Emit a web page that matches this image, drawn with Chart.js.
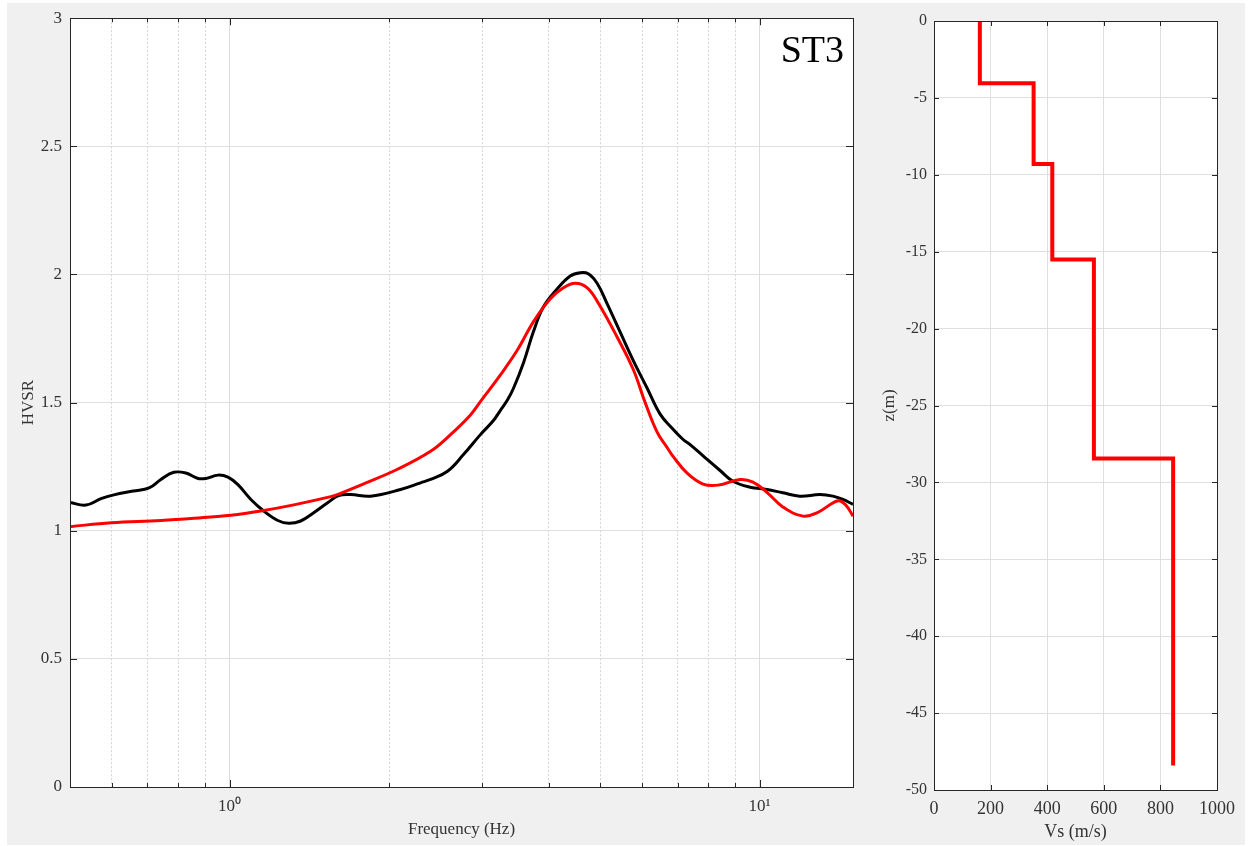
<!DOCTYPE html>
<html>
<head>
<meta charset="utf-8">
<title>ST3 HVSR</title>
<script src="https://cdn.jsdelivr.net/npm/chart.js@4.4.1/dist/chart.umd.min.js"></script>
<style>
  html, body { margin: 0; padding: 0; background: #fff; }
  #fig { position: absolute; left: 7px; top: 3px; width: 1238px; height: 842px; background: #f0f0f0; }
  #hvsr { position: absolute; left: 0; top: 0; }
  #vs { position: absolute; left: 870px; top: 0; }
</style>
</head>
<body>
<div id="fig"></div>
<canvas id="hvsr" width="870" height="846"></canvas>
<canvas id="vs" width="380" height="846"></canvas>
<script>
// measured H/V curve
const obsFreq = [0.50, 0.536, 0.572, 0.605, 0.658, 0.705, 0.742, 0.785, 0.827, 0.872, 0.902, 0.951, 0.993, 1.037, 1.097,
  1.16, 1.233, 1.293, 1.362, 1.441, 1.531, 1.606, 1.692, 1.845, 2.102, 2.293, 2.394, 2.577, 2.762, 2.973, 3.146, 3.243,
  3.343, 3.431, 3.584, 3.742, 3.908, 4.152, 4.392, 4.587, 4.749, 4.939, 5.157, 5.456, 5.773, 6.135, 6.49, 6.836, 7.171,
  7.393, 7.822, 8.421, 8.907, 9.59, 10.32, 11.06, 11.91, 12.99, 13.75, 14.36, 15.0]
const obsHvsr = [1.11, 1.10, 1.125, 1.14, 1.155, 1.167, 1.20, 1.228, 1.225, 1.204, 1.204, 1.217, 1.209, 1.18, 1.122,
  1.077, 1.04, 1.029, 1.038, 1.07, 1.109, 1.137, 1.141, 1.135, 1.161, 1.187, 1.20, 1.232, 1.297, 1.375, 1.43, 1.47,
  1.51, 1.555, 1.655, 1.776, 1.873, 1.944, 1.994, 2.007, 2.003, 1.965, 1.885, 1.775, 1.665, 1.556, 1.455, 1.40, 1.356,
  1.336, 1.292, 1.235, 1.193, 1.17, 1.161, 1.148, 1.135, 1.141, 1.135, 1.122, 1.103]

// theoretical H/V of the inverted model
const fitFreq = [0.50, 0.598, 0.742, 0.922, 1.006, 1.145, 1.322, 1.552, 1.606, 1.79, 2.074, 2.394, 2.611, 2.847, 2.973,
  3.243, 3.491, 3.742, 4.028, 4.263, 4.489, 4.729, 4.973, 5.387, 5.773, 6.082, 6.406, 6.689, 6.865, 7.297, 7.822,
  8.347, 9.181, 9.714, 10.32, 11.06, 12.07, 12.88, 14.05, 14.54, 15.0]
const fitHvsr = [1.016, 1.031, 1.040, 1.054, 1.060, 1.077, 1.101, 1.133, 1.143, 1.183, 1.24, 1.31, 1.375, 1.452, 1.504,
  1.608, 1.705, 1.815, 1.905, 1.948, 1.966, 1.948, 1.885, 1.755, 1.63, 1.50, 1.385, 1.325, 1.29, 1.225, 1.182,
  1.178, 1.20, 1.19, 1.15, 1.093, 1.057, 1.072, 1.117, 1.10, 1.057]

const freqTicks = [0.6, 0.7, 0.8, 0.9, 1, 2, 3, 4, 5, 6, 7, 8, 9, 10]
const freqLabels = ['', '', '', '', '10\u2070', '', '', '', '', '', '', '', '', '10\u00b9']

// Vs profile: one velocity per layer, depth bounds top to bottom
const vsLayer = [162, 352, 418, 565, 845]
const depthBounds = [0, -4.05, -9.3, -15.5, -28.45, -48.4]

const stationName = 'ST3'

const serif = '"Liberation Serif", "Times New Roman", serif'
const axisColor = '#262626'
const labelColor = '#333'

const toPoints = (xs, ys) => xs.map((x, i) => ({ x: x, y: ys[i] }))
const plainNum = v => String(v)

const profile = []
vsLayer.forEach((v, i) => {
  profile.push({ x: v, y: depthBounds[i] })
  profile.push({ x: v, y: depthBounds[i + 1] })
})

// white axes area, box and inward ticks like the matlab look
const frame = {
  id: 'frame',
  beforeDraw(chart) {
    const { ctx, chartArea: a } = chart
    ctx.save()
    ctx.fillStyle = '#fff'
    ctx.fillRect(a.left, a.top, a.right - a.left, a.bottom - a.top)
    ctx.restore()
  },
  afterDatasetsDraw(chart, args, opts) {
    const { ctx, chartArea: a, scales } = chart
    ctx.save()
    ctx.strokeStyle = axisColor
    ctx.lineWidth = 1
    ctx.beginPath()
    scales.x.ticks.forEach(t => {
      const px = Math.round(scales.x.getPixelForValue(t.value)) + 0.5
      const len = t.label === '' ? opts.minorLen : opts.majorLen
      ctx.moveTo(px, a.bottom); ctx.lineTo(px, a.bottom - len)
      ctx.moveTo(px, a.top); ctx.lineTo(px, a.top + len)
    })
    scales.y.ticks.forEach(t => {
      const py = Math.round(scales.y.getPixelForValue(t.value)) + 0.5
      ctx.moveTo(a.left, py); ctx.lineTo(a.left + opts.majorLen, py)
      ctx.moveTo(a.right, py); ctx.lineTo(a.right - opts.majorLen, py)
    })
    ctx.stroke()
    ctx.strokeRect(Math.round(a.left) + 0.5, Math.round(a.top) + 0.5,
      Math.round(a.right - a.left), Math.round(a.bottom - a.top))
    if (opts.name) {
      ctx.fillStyle = '#000'
      ctx.font = '38px ' + serif
      ctx.textAlign = 'right'
      ctx.textBaseline = 'alphabetic'
      ctx.fillText(opts.name, a.right - 9, a.top + 44)
    }
    ctx.restore()
  }
}

const isMajorFreq = v => v === 1 || v === 10

new Chart(document.getElementById('hvsr'), {
  type: 'scatter',
  data: {
    datasets: [
      {
        data: toPoints(fitFreq, fitHvsr),
        showLine: true, borderColor: '#ff0000', borderWidth: 3,
        pointRadius: 0, tension: 0.4, order: 0
      },
      {
        data: toPoints(obsFreq, obsHvsr),
        showLine: true, borderColor: '#000', borderWidth: 3,
        pointRadius: 0, tension: 0.4, order: 1
      }
    ]
  },
  plugins: [frame],
  options: {
    responsive: false,
    animation: false,
    layout: { padding: { left: 0, top: 15, right: 17, bottom: 0 } },
    plugins: {
      legend: { display: false },
      tooltip: { enabled: false },
      frame: { majorLen: 7, minorLen: 4, name: stationName }
    },
    scales: {
      x: {
        type: 'logarithmic', min: 0.5, max: 15,
        afterBuildTicks: s => { s.ticks = freqTicks.map(v => ({ value: v })) },
        afterFit: s => { s.height = 59 },
        grid: {
          drawTicks: false,
          lineWidth: 1,
          color: c => (c.tick && isMajorFreq(c.tick.value)) ? '#dcdcdc' : '#d2d2d2'
        },
        border: {
          display: false,
          dash: c => (c.tick && !isMajorFreq(c.tick.value)) ? [2, 2] : []
        },
        ticks: {
          autoSkip: false, maxRotation: 0, padding: 9,
          color: labelColor, font: { family: serif, size: 17 },
          callback: (v, i) => freqLabels[i]
        },
        title: {
          display: true, text: 'Frequency (Hz)', color: labelColor,
          font: { family: serif, size: 17 }, padding: { top: 0, bottom: 6 }
        }
      },
      y: {
        min: 0, max: 3,
        afterFit: s => { s.width = 70 },
        grid: { drawTicks: false, color: '#dfdfdf', lineWidth: 1 },
        border: { display: false },
        ticks: {
          stepSize: 0.5, padding: 8, callback: plainNum,
          color: labelColor, font: { family: serif, size: 17 }
        },
        title: {
          display: true, text: 'HVSR', color: labelColor,
          font: { family: serif, size: 17 }, padding: { top: 18, bottom: 0 }
        }
      }
    }
  }
})

new Chart(document.getElementById('vs'), {
  type: 'scatter',
  data: {
    datasets: [{
      data: profile,
      showLine: true, borderColor: '#ff0000', borderWidth: 4,
      pointRadius: 0, borderJoinStyle: 'miter'
    }]
  },
  plugins: [frame],
  options: {
    responsive: false,
    animation: false,
    layout: { padding: { left: 0, top: 21, right: 33, bottom: 0 } },
    plugins: {
      legend: { display: false },
      tooltip: { enabled: false },
      frame: { majorLen: 5, minorLen: 5 }
    },
    scales: {
      x: {
        min: 0, max: 1000,
        afterFit: s => { s.height = 56 },
        grid: { drawTicks: false, color: '#dfdfdf', lineWidth: 1 },
        border: { display: false },
        ticks: {
          stepSize: 200, maxRotation: 0, padding: 8, callback: plainNum,
          color: labelColor, font: { family: serif, size: 18 }
        },
        title: {
          display: true, text: 'Vs (m/s)', color: labelColor,
          font: { family: serif, size: 18 }, padding: { top: 0, bottom: 3 }
        }
      },
      y: {
        min: -50, max: 0,
        afterFit: s => { s.width = 64 },
        grid: { drawTicks: false, color: '#dfdfdf', lineWidth: 1 },
        border: { display: false },
        ticks: {
          stepSize: 5, padding: 7, callback: plainNum,
          color: labelColor, font: { family: serif, size: 16 }
        },
        title: {
          display: true, text: 'z(m)', color: labelColor,
          font: { family: serif, size: 17 }, padding: { top: 9, bottom: 0 }
        }
      }
    }
  }
})
</script>
</body>
</html>
